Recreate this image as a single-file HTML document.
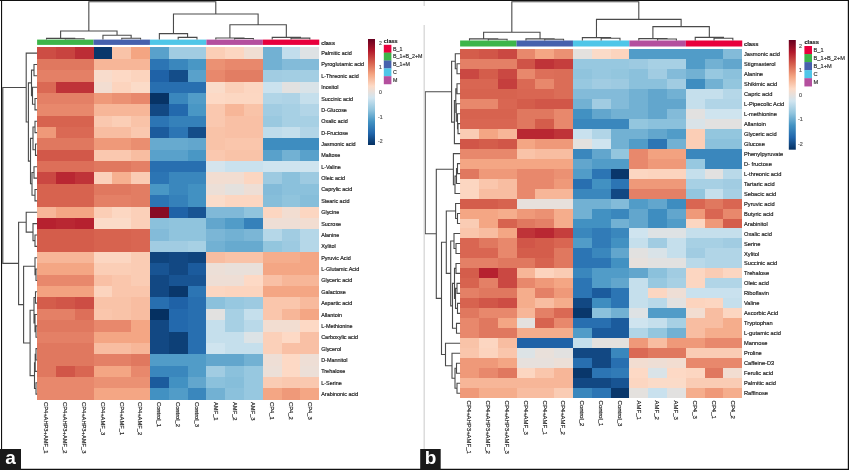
<!DOCTYPE html>
<html><head><meta charset="utf-8"><title>Heatmaps</title>
<style>
html,body{margin:0;padding:0;background:#fff;width:849px;height:470px;overflow:hidden}
svg{display:block}
text{font-family:"Liberation Sans",Arial,sans-serif;fill:#222;stroke:#222;stroke-width:0.18px}
.rl{font-size:5.45px}
.cl{font-size:5.6px}
.tk{font-size:5.1px;fill:#555;stroke:#555}
.lg{font-size:5.3px;fill:#333;stroke:#333}
.ct{font-size:5.5px;font-weight:bold}
.pl{font-size:19px;font-weight:bold;fill:#fff;stroke:none;text-anchor:middle}
</style></head><body>
<svg width="849" height="470" viewBox="0 0 849 470">
<defs><linearGradient id="g" x1="0" y1="0" x2="0" y2="1"><stop offset="0.0000" stop-color="#67001F"/><stop offset="0.1111" stop-color="#B2182B"/><stop offset="0.2222" stop-color="#D6604D"/><stop offset="0.3333" stop-color="#F4A582"/><stop offset="0.4444" stop-color="#FDDBC7"/><stop offset="0.5556" stop-color="#D1E5F0"/><stop offset="0.6667" stop-color="#92C5DE"/><stop offset="0.7778" stop-color="#4393C3"/><stop offset="0.8889" stop-color="#2166AC"/><stop offset="1.0000" stop-color="#053061"/></linearGradient></defs>
<rect width="849" height="470" fill="#fff"/>
<rect x="37" y="47" width="19" height="12" fill="#cd4d44"/>
<rect x="56" y="47" width="19" height="12" fill="#c8433f"/>
<rect x="75" y="47" width="19" height="12" fill="#bc2d35"/>
<rect x="94" y="47" width="18" height="12" fill="#09376b"/>
<rect x="112" y="47" width="19" height="12" fill="#f9c3a8"/>
<rect x="131" y="47" width="19" height="12" fill="#f4a582"/>
<rect x="150" y="47" width="19" height="12" fill="#59a1cb"/>
<rect x="169" y="47" width="19" height="12" fill="#a1cce2"/>
<rect x="188" y="47" width="18" height="12" fill="#a1cce2"/>
<rect x="206" y="47" width="19" height="12" fill="#fbceb6"/>
<rect x="225" y="47" width="19" height="12" fill="#fcd6c1"/>
<rect x="244" y="47" width="19" height="12" fill="#f0ded3"/>
<rect x="263" y="47" width="19" height="12" fill="#72b1d3"/>
<rect x="282" y="47" width="18" height="12" fill="#c2ddec"/>
<rect x="300" y="47" width="19" height="12" fill="#dee2e4"/>
<rect x="37" y="59" width="19" height="11" fill="#e0785f"/>
<rect x="56" y="59" width="19" height="11" fill="#e0785f"/>
<rect x="75" y="59" width="19" height="11" fill="#e0785f"/>
<rect x="94" y="59" width="18" height="11" fill="#f7b698"/>
<rect x="112" y="59" width="19" height="11" fill="#f7b698"/>
<rect x="131" y="59" width="19" height="11" fill="#f7b698"/>
<rect x="150" y="59" width="19" height="11" fill="#2c75b4"/>
<rect x="169" y="59" width="19" height="11" fill="#3a87bd"/>
<rect x="188" y="59" width="18" height="11" fill="#4997c5"/>
<rect x="206" y="59" width="19" height="11" fill="#eb9173"/>
<rect x="225" y="59" width="19" height="11" fill="#e8886c"/>
<rect x="244" y="59" width="19" height="11" fill="#e8886c"/>
<rect x="263" y="59" width="19" height="11" fill="#72b1d3"/>
<rect x="282" y="59" width="18" height="11" fill="#83bbd9"/>
<rect x="300" y="59" width="19" height="11" fill="#83bbd9"/>
<rect x="37" y="70" width="19" height="12" fill="#e48066"/>
<rect x="56" y="70" width="19" height="12" fill="#e48066"/>
<rect x="75" y="70" width="19" height="12" fill="#e48066"/>
<rect x="94" y="70" width="18" height="12" fill="#f8dccc"/>
<rect x="112" y="70" width="19" height="12" fill="#fdd9c5"/>
<rect x="131" y="70" width="19" height="12" fill="#fcd4be"/>
<rect x="150" y="70" width="19" height="12" fill="#1f62a7"/>
<rect x="169" y="70" width="19" height="12" fill="#144d89"/>
<rect x="188" y="70" width="18" height="12" fill="#59a1cb"/>
<rect x="206" y="70" width="19" height="12" fill="#e8886c"/>
<rect x="225" y="70" width="19" height="12" fill="#e27d63"/>
<rect x="244" y="70" width="19" height="12" fill="#e27d63"/>
<rect x="263" y="70" width="19" height="12" fill="#a1cce2"/>
<rect x="282" y="70" width="18" height="12" fill="#a3cee3"/>
<rect x="300" y="70" width="19" height="12" fill="#a3cee3"/>
<rect x="37" y="82" width="19" height="11" fill="#da6954"/>
<rect x="56" y="82" width="19" height="11" fill="#bf3338"/>
<rect x="75" y="82" width="19" height="11" fill="#bf3338"/>
<rect x="94" y="82" width="18" height="11" fill="#f2ddd1"/>
<rect x="112" y="82" width="19" height="11" fill="#fcd4be"/>
<rect x="131" y="82" width="19" height="11" fill="#fbdbc8"/>
<rect x="150" y="82" width="19" height="11" fill="#286fb0"/>
<rect x="169" y="82" width="19" height="11" fill="#286fb0"/>
<rect x="188" y="82" width="18" height="11" fill="#286fb0"/>
<rect x="206" y="82" width="19" height="11" fill="#fadcca"/>
<rect x="225" y="82" width="19" height="11" fill="#fbd0b9"/>
<rect x="244" y="82" width="19" height="11" fill="#fcd6c1"/>
<rect x="263" y="82" width="19" height="11" fill="#cbe2ee"/>
<rect x="282" y="82" width="18" height="11" fill="#e2e1e0"/>
<rect x="300" y="82" width="19" height="11" fill="#d9e3e8"/>
<rect x="37" y="93" width="19" height="11" fill="#e48066"/>
<rect x="56" y="93" width="19" height="11" fill="#e48066"/>
<rect x="75" y="93" width="19" height="11" fill="#e48066"/>
<rect x="94" y="93" width="18" height="11" fill="#ef9979"/>
<rect x="112" y="93" width="19" height="11" fill="#eb9173"/>
<rect x="131" y="93" width="19" height="11" fill="#e8886c"/>
<rect x="150" y="93" width="19" height="11" fill="#073365"/>
<rect x="169" y="93" width="19" height="11" fill="#3a87bd"/>
<rect x="188" y="93" width="18" height="11" fill="#519cc8"/>
<rect x="206" y="93" width="19" height="11" fill="#fdd9c5"/>
<rect x="225" y="93" width="19" height="11" fill="#fcd7c2"/>
<rect x="244" y="93" width="19" height="11" fill="#fcd7c2"/>
<rect x="263" y="93" width="19" height="11" fill="#b1d5e7"/>
<rect x="282" y="93" width="18" height="11" fill="#aed3e6"/>
<rect x="300" y="93" width="19" height="11" fill="#c5dfec"/>
<rect x="37" y="104" width="19" height="12" fill="#e8886c"/>
<rect x="56" y="104" width="19" height="12" fill="#e8886c"/>
<rect x="75" y="104" width="19" height="12" fill="#e8886c"/>
<rect x="94" y="104" width="18" height="12" fill="#f7b698"/>
<rect x="112" y="104" width="19" height="12" fill="#f7b698"/>
<rect x="131" y="104" width="19" height="12" fill="#f7b698"/>
<rect x="150" y="104" width="19" height="12" fill="#124883"/>
<rect x="169" y="104" width="19" height="12" fill="#2369ad"/>
<rect x="188" y="104" width="18" height="12" fill="#4997c5"/>
<rect x="206" y="104" width="19" height="12" fill="#fac8af"/>
<rect x="225" y="104" width="19" height="12" fill="#f7b698"/>
<rect x="244" y="104" width="19" height="12" fill="#f9c3a8"/>
<rect x="263" y="104" width="19" height="12" fill="#a1cce2"/>
<rect x="282" y="104" width="18" height="12" fill="#a7d0e4"/>
<rect x="300" y="104" width="19" height="12" fill="#b2d5e7"/>
<rect x="37" y="116" width="19" height="11" fill="#d7634f"/>
<rect x="56" y="116" width="19" height="11" fill="#d7634f"/>
<rect x="75" y="116" width="19" height="11" fill="#d7634f"/>
<rect x="94" y="116" width="18" height="11" fill="#fac8af"/>
<rect x="112" y="116" width="19" height="11" fill="#fbceb6"/>
<rect x="131" y="116" width="19" height="11" fill="#f9c3a8"/>
<rect x="150" y="116" width="19" height="11" fill="#2c75b4"/>
<rect x="169" y="116" width="19" height="11" fill="#3581ba"/>
<rect x="188" y="116" width="18" height="11" fill="#3581ba"/>
<rect x="206" y="116" width="19" height="11" fill="#fac8af"/>
<rect x="225" y="116" width="19" height="11" fill="#f9c0a5"/>
<rect x="244" y="116" width="19" height="11" fill="#f9c0a5"/>
<rect x="263" y="116" width="19" height="11" fill="#9ac9e0"/>
<rect x="282" y="116" width="18" height="11" fill="#a7d0e4"/>
<rect x="300" y="116" width="19" height="11" fill="#a7d0e4"/>
<rect x="37" y="127" width="19" height="11" fill="#ef9979"/>
<rect x="56" y="127" width="19" height="11" fill="#da6954"/>
<rect x="75" y="127" width="19" height="11" fill="#da6954"/>
<rect x="94" y="127" width="18" height="11" fill="#f8bda1"/>
<rect x="112" y="127" width="19" height="11" fill="#f8bda1"/>
<rect x="131" y="127" width="19" height="11" fill="#fac8af"/>
<rect x="150" y="127" width="19" height="11" fill="#1b5b9d"/>
<rect x="169" y="127" width="19" height="11" fill="#2c75b4"/>
<rect x="188" y="127" width="18" height="11" fill="#144d89"/>
<rect x="206" y="127" width="19" height="11" fill="#f9c3a8"/>
<rect x="225" y="127" width="19" height="11" fill="#f9c0a5"/>
<rect x="244" y="127" width="19" height="11" fill="#f9c0a5"/>
<rect x="263" y="127" width="19" height="11" fill="#bfdceb"/>
<rect x="282" y="127" width="18" height="11" fill="#c5dfec"/>
<rect x="300" y="127" width="19" height="11" fill="#b2d5e7"/>
<rect x="37" y="138" width="19" height="12" fill="#e0785f"/>
<rect x="56" y="138" width="19" height="12" fill="#e0785f"/>
<rect x="75" y="138" width="19" height="12" fill="#e0785f"/>
<rect x="94" y="138" width="18" height="12" fill="#ef9979"/>
<rect x="112" y="138" width="19" height="12" fill="#ef9979"/>
<rect x="131" y="138" width="19" height="12" fill="#ea8e70"/>
<rect x="150" y="138" width="19" height="12" fill="#67aacf"/>
<rect x="169" y="138" width="19" height="12" fill="#67aacf"/>
<rect x="188" y="138" width="18" height="12" fill="#62a6cd"/>
<rect x="206" y="138" width="19" height="12" fill="#f9c3a8"/>
<rect x="225" y="138" width="19" height="12" fill="#fac6ac"/>
<rect x="244" y="138" width="19" height="12" fill="#fac6ac"/>
<rect x="263" y="138" width="19" height="12" fill="#3e8dc0"/>
<rect x="282" y="138" width="18" height="12" fill="#3e8dc0"/>
<rect x="300" y="138" width="19" height="12" fill="#3e8dc0"/>
<rect x="37" y="150" width="19" height="11" fill="#d25849"/>
<rect x="56" y="150" width="19" height="11" fill="#d25849"/>
<rect x="75" y="150" width="19" height="11" fill="#d25849"/>
<rect x="94" y="150" width="18" height="11" fill="#fac8af"/>
<rect x="112" y="150" width="19" height="11" fill="#fac8af"/>
<rect x="131" y="150" width="19" height="11" fill="#f8bda1"/>
<rect x="150" y="150" width="19" height="11" fill="#59a1cb"/>
<rect x="169" y="150" width="19" height="11" fill="#59a1cb"/>
<rect x="188" y="150" width="18" height="11" fill="#4997c5"/>
<rect x="206" y="150" width="19" height="11" fill="#fac8af"/>
<rect x="225" y="150" width="19" height="11" fill="#f9c3a8"/>
<rect x="244" y="150" width="19" height="11" fill="#f9c3a8"/>
<rect x="263" y="150" width="19" height="11" fill="#59a1cb"/>
<rect x="282" y="150" width="18" height="11" fill="#72b1d3"/>
<rect x="300" y="150" width="19" height="11" fill="#59a1cb"/>
<rect x="37" y="161" width="19" height="11" fill="#dd6f59"/>
<rect x="56" y="161" width="19" height="11" fill="#dd6f59"/>
<rect x="75" y="161" width="19" height="11" fill="#dd6f59"/>
<rect x="94" y="161" width="18" height="11" fill="#e0785f"/>
<rect x="112" y="161" width="19" height="11" fill="#e0785f"/>
<rect x="131" y="161" width="19" height="11" fill="#e48066"/>
<rect x="150" y="161" width="19" height="11" fill="#286fb0"/>
<rect x="169" y="161" width="19" height="11" fill="#286fb0"/>
<rect x="188" y="161" width="18" height="11" fill="#286fb0"/>
<rect x="206" y="161" width="19" height="11" fill="#d4e4ed"/>
<rect x="225" y="161" width="19" height="11" fill="#c9e1ee"/>
<rect x="244" y="161" width="19" height="11" fill="#c9e1ee"/>
<rect x="263" y="161" width="19" height="11" fill="#cfe4ef"/>
<rect x="282" y="161" width="18" height="11" fill="#cfe4ef"/>
<rect x="300" y="161" width="19" height="11" fill="#cfe4ef"/>
<rect x="37" y="172" width="19" height="12" fill="#ca4842"/>
<rect x="56" y="172" width="19" height="12" fill="#b92732"/>
<rect x="75" y="172" width="19" height="12" fill="#bf3338"/>
<rect x="94" y="172" width="18" height="12" fill="#fbd1bb"/>
<rect x="112" y="172" width="19" height="12" fill="#f6b090"/>
<rect x="131" y="172" width="19" height="12" fill="#faccb4"/>
<rect x="150" y="172" width="19" height="12" fill="#2c75b4"/>
<rect x="169" y="172" width="19" height="12" fill="#3a87bd"/>
<rect x="188" y="172" width="18" height="12" fill="#3a87bd"/>
<rect x="206" y="172" width="19" height="12" fill="#f2ddd1"/>
<rect x="225" y="172" width="19" height="12" fill="#f2ddd1"/>
<rect x="244" y="172" width="19" height="12" fill="#fcd6c1"/>
<rect x="263" y="172" width="19" height="12" fill="#9dcae1"/>
<rect x="282" y="172" width="18" height="12" fill="#8bc1dc"/>
<rect x="300" y="172" width="19" height="12" fill="#9dcae1"/>
<rect x="37" y="184" width="19" height="11" fill="#d7634f"/>
<rect x="56" y="184" width="19" height="11" fill="#d7634f"/>
<rect x="75" y="184" width="19" height="11" fill="#d7634f"/>
<rect x="94" y="184" width="18" height="11" fill="#e0785f"/>
<rect x="112" y="184" width="19" height="11" fill="#e0785f"/>
<rect x="131" y="184" width="19" height="11" fill="#e27d63"/>
<rect x="150" y="184" width="19" height="11" fill="#4997c5"/>
<rect x="169" y="184" width="19" height="11" fill="#3a87bd"/>
<rect x="188" y="184" width="18" height="11" fill="#4291c2"/>
<rect x="206" y="184" width="19" height="11" fill="#ecdfd7"/>
<rect x="225" y="184" width="19" height="11" fill="#e4e1de"/>
<rect x="244" y="184" width="19" height="11" fill="#eeded5"/>
<rect x="263" y="184" width="19" height="11" fill="#83bbd9"/>
<rect x="282" y="184" width="18" height="11" fill="#8bc1dc"/>
<rect x="300" y="184" width="19" height="11" fill="#8bc1dc"/>
<rect x="37" y="195" width="19" height="12" fill="#d7634f"/>
<rect x="56" y="195" width="19" height="12" fill="#d7634f"/>
<rect x="75" y="195" width="19" height="12" fill="#d7634f"/>
<rect x="94" y="195" width="18" height="12" fill="#e48066"/>
<rect x="112" y="195" width="19" height="12" fill="#e48066"/>
<rect x="131" y="195" width="19" height="12" fill="#e27d63"/>
<rect x="150" y="195" width="19" height="12" fill="#2c75b4"/>
<rect x="169" y="195" width="19" height="12" fill="#3581ba"/>
<rect x="188" y="195" width="18" height="12" fill="#4291c2"/>
<rect x="206" y="195" width="19" height="12" fill="#fadcca"/>
<rect x="225" y="195" width="19" height="12" fill="#fcd6c1"/>
<rect x="244" y="195" width="19" height="12" fill="#fcd6c1"/>
<rect x="263" y="195" width="19" height="12" fill="#86beda"/>
<rect x="282" y="195" width="18" height="12" fill="#90c4dd"/>
<rect x="300" y="195" width="19" height="12" fill="#86beda"/>
<rect x="37" y="207" width="19" height="11" fill="#f7b698"/>
<rect x="56" y="207" width="19" height="11" fill="#f4a684"/>
<rect x="75" y="207" width="19" height="11" fill="#f4a684"/>
<rect x="94" y="207" width="18" height="11" fill="#fbceb6"/>
<rect x="112" y="207" width="19" height="11" fill="#fcd7c2"/>
<rect x="131" y="207" width="19" height="11" fill="#fbd0b9"/>
<rect x="150" y="207" width="19" height="11" fill="#880b24"/>
<rect x="169" y="207" width="19" height="11" fill="#1f62a7"/>
<rect x="188" y="207" width="18" height="11" fill="#185493"/>
<rect x="206" y="207" width="19" height="11" fill="#80b9d8"/>
<rect x="225" y="207" width="19" height="11" fill="#80b9d8"/>
<rect x="244" y="207" width="19" height="11" fill="#90c4dd"/>
<rect x="263" y="207" width="19" height="11" fill="#fcd6c1"/>
<rect x="282" y="207" width="18" height="11" fill="#f2ddd1"/>
<rect x="300" y="207" width="19" height="11" fill="#fcd6c1"/>
<rect x="37" y="218" width="19" height="11" fill="#b6212f"/>
<rect x="56" y="218" width="19" height="11" fill="#b92732"/>
<rect x="75" y="218" width="19" height="11" fill="#b6212f"/>
<rect x="94" y="218" width="18" height="11" fill="#fbdbc8"/>
<rect x="112" y="218" width="19" height="11" fill="#fbdbc8"/>
<rect x="131" y="218" width="19" height="11" fill="#fbd0b9"/>
<rect x="150" y="218" width="19" height="11" fill="#8bc1dc"/>
<rect x="169" y="218" width="19" height="11" fill="#90c4dd"/>
<rect x="188" y="218" width="18" height="11" fill="#90c4dd"/>
<rect x="206" y="218" width="19" height="11" fill="#62a6cd"/>
<rect x="225" y="218" width="19" height="11" fill="#519cc8"/>
<rect x="244" y="218" width="19" height="11" fill="#3581ba"/>
<rect x="263" y="218" width="19" height="11" fill="#eeded5"/>
<rect x="282" y="218" width="18" height="11" fill="#eeded5"/>
<rect x="300" y="218" width="19" height="11" fill="#f2ddd1"/>
<rect x="37" y="229" width="19" height="12" fill="#d45d4b"/>
<rect x="56" y="229" width="19" height="12" fill="#d45d4b"/>
<rect x="75" y="229" width="19" height="12" fill="#d45d4b"/>
<rect x="94" y="229" width="18" height="12" fill="#d7634f"/>
<rect x="112" y="229" width="19" height="12" fill="#d7634f"/>
<rect x="131" y="229" width="19" height="12" fill="#d96652"/>
<rect x="150" y="229" width="19" height="12" fill="#83bbd9"/>
<rect x="169" y="229" width="19" height="12" fill="#90c4dd"/>
<rect x="188" y="229" width="18" height="12" fill="#90c4dd"/>
<rect x="206" y="229" width="19" height="12" fill="#7bb6d6"/>
<rect x="225" y="229" width="19" height="12" fill="#72b1d3"/>
<rect x="244" y="229" width="19" height="12" fill="#7bb6d6"/>
<rect x="263" y="229" width="19" height="12" fill="#b5d7e8"/>
<rect x="282" y="229" width="18" height="12" fill="#a1cce2"/>
<rect x="300" y="229" width="19" height="12" fill="#b5d7e8"/>
<rect x="37" y="241" width="19" height="11" fill="#d45d4b"/>
<rect x="56" y="241" width="19" height="11" fill="#d45d4b"/>
<rect x="75" y="241" width="19" height="11" fill="#d45d4b"/>
<rect x="94" y="241" width="18" height="11" fill="#d7634f"/>
<rect x="112" y="241" width="19" height="11" fill="#d7634f"/>
<rect x="131" y="241" width="19" height="11" fill="#d96652"/>
<rect x="150" y="241" width="19" height="11" fill="#a1cce2"/>
<rect x="169" y="241" width="19" height="11" fill="#a1cce2"/>
<rect x="188" y="241" width="18" height="11" fill="#a7d0e4"/>
<rect x="206" y="241" width="19" height="11" fill="#72b1d3"/>
<rect x="225" y="241" width="19" height="11" fill="#67aacf"/>
<rect x="244" y="241" width="19" height="11" fill="#67aacf"/>
<rect x="263" y="241" width="19" height="11" fill="#93c6de"/>
<rect x="282" y="241" width="18" height="11" fill="#9dcae1"/>
<rect x="300" y="241" width="19" height="11" fill="#b5d7e8"/>
<rect x="37" y="252" width="19" height="11" fill="#f7b698"/>
<rect x="56" y="252" width="19" height="11" fill="#f7b698"/>
<rect x="75" y="252" width="19" height="11" fill="#f7b698"/>
<rect x="94" y="252" width="18" height="11" fill="#fcd6c1"/>
<rect x="112" y="252" width="19" height="11" fill="#fcd6c1"/>
<rect x="131" y="252" width="19" height="11" fill="#faccb4"/>
<rect x="150" y="252" width="19" height="11" fill="#0f447d"/>
<rect x="169" y="252" width="19" height="11" fill="#124883"/>
<rect x="188" y="252" width="18" height="11" fill="#0f447d"/>
<rect x="206" y="252" width="19" height="11" fill="#f8bda1"/>
<rect x="225" y="252" width="19" height="11" fill="#f9c3a8"/>
<rect x="244" y="252" width="19" height="11" fill="#f9c3a8"/>
<rect x="263" y="252" width="19" height="11" fill="#f5ad8c"/>
<rect x="282" y="252" width="18" height="11" fill="#f5ad8c"/>
<rect x="300" y="252" width="19" height="11" fill="#f4a684"/>
<rect x="37" y="263" width="19" height="12" fill="#f4a684"/>
<rect x="56" y="263" width="19" height="12" fill="#f4a684"/>
<rect x="75" y="263" width="19" height="12" fill="#f4a684"/>
<rect x="94" y="263" width="18" height="12" fill="#fbceb6"/>
<rect x="112" y="263" width="19" height="12" fill="#fbceb6"/>
<rect x="131" y="263" width="19" height="12" fill="#faccb4"/>
<rect x="150" y="263" width="19" height="12" fill="#185493"/>
<rect x="169" y="263" width="19" height="12" fill="#124883"/>
<rect x="188" y="263" width="18" height="12" fill="#1b5b9d"/>
<rect x="206" y="263" width="19" height="12" fill="#ecdfd7"/>
<rect x="225" y="263" width="19" height="12" fill="#e9e0da"/>
<rect x="244" y="263" width="19" height="12" fill="#e9e0da"/>
<rect x="263" y="263" width="19" height="12" fill="#f4a684"/>
<rect x="282" y="263" width="18" height="12" fill="#f4a684"/>
<rect x="300" y="263" width="19" height="12" fill="#f4a684"/>
<rect x="37" y="275" width="19" height="11" fill="#e8886c"/>
<rect x="56" y="275" width="19" height="11" fill="#e8886c"/>
<rect x="75" y="275" width="19" height="11" fill="#e8886c"/>
<rect x="94" y="275" width="18" height="11" fill="#f9c0a5"/>
<rect x="112" y="275" width="19" height="11" fill="#fac6ac"/>
<rect x="131" y="275" width="19" height="11" fill="#faccb4"/>
<rect x="150" y="275" width="19" height="11" fill="#124883"/>
<rect x="169" y="275" width="19" height="11" fill="#185493"/>
<rect x="188" y="275" width="18" height="11" fill="#185493"/>
<rect x="206" y="275" width="19" height="11" fill="#eeded5"/>
<rect x="225" y="275" width="19" height="11" fill="#eeded5"/>
<rect x="244" y="275" width="19" height="11" fill="#fdd9c5"/>
<rect x="263" y="275" width="19" height="11" fill="#f9c0a5"/>
<rect x="282" y="275" width="18" height="11" fill="#f7b698"/>
<rect x="300" y="275" width="19" height="11" fill="#f7b698"/>
<rect x="37" y="286" width="19" height="11" fill="#f3a280"/>
<rect x="56" y="286" width="19" height="11" fill="#f3a280"/>
<rect x="75" y="286" width="19" height="11" fill="#f3a280"/>
<rect x="94" y="286" width="18" height="11" fill="#fcd4be"/>
<rect x="112" y="286" width="19" height="11" fill="#fac6ac"/>
<rect x="131" y="286" width="19" height="11" fill="#fac6ac"/>
<rect x="150" y="286" width="19" height="11" fill="#124883"/>
<rect x="169" y="286" width="19" height="11" fill="#09376b"/>
<rect x="188" y="286" width="18" height="11" fill="#2c75b4"/>
<rect x="206" y="286" width="19" height="11" fill="#fcd6c1"/>
<rect x="225" y="286" width="19" height="11" fill="#fcd4be"/>
<rect x="244" y="286" width="19" height="11" fill="#fcd4be"/>
<rect x="263" y="286" width="19" height="11" fill="#f4a684"/>
<rect x="282" y="286" width="18" height="11" fill="#f4a684"/>
<rect x="300" y="286" width="19" height="11" fill="#f4a684"/>
<rect x="37" y="297" width="19" height="12" fill="#d45d4b"/>
<rect x="56" y="297" width="19" height="12" fill="#d15648"/>
<rect x="75" y="297" width="19" height="12" fill="#cd4d44"/>
<rect x="94" y="297" width="18" height="12" fill="#f9c3a8"/>
<rect x="112" y="297" width="19" height="12" fill="#f9c3a8"/>
<rect x="131" y="297" width="19" height="12" fill="#f8bda1"/>
<rect x="150" y="297" width="19" height="12" fill="#286fb0"/>
<rect x="169" y="297" width="19" height="12" fill="#1f62a7"/>
<rect x="188" y="297" width="18" height="12" fill="#286fb0"/>
<rect x="206" y="297" width="19" height="12" fill="#8bc1dc"/>
<rect x="225" y="297" width="19" height="12" fill="#97c8e0"/>
<rect x="244" y="297" width="19" height="12" fill="#9dcae1"/>
<rect x="263" y="297" width="19" height="12" fill="#fac6ac"/>
<rect x="282" y="297" width="18" height="12" fill="#fac6ac"/>
<rect x="300" y="297" width="19" height="12" fill="#f8ba9d"/>
<rect x="37" y="309" width="19" height="11" fill="#e48066"/>
<rect x="56" y="309" width="19" height="11" fill="#e48066"/>
<rect x="75" y="309" width="19" height="11" fill="#dd6f59"/>
<rect x="94" y="309" width="18" height="11" fill="#fac6ac"/>
<rect x="112" y="309" width="19" height="11" fill="#f9c3a8"/>
<rect x="131" y="309" width="19" height="11" fill="#f8bda1"/>
<rect x="150" y="309" width="19" height="11" fill="#053061"/>
<rect x="169" y="309" width="19" height="11" fill="#2369ad"/>
<rect x="188" y="309" width="18" height="11" fill="#286fb0"/>
<rect x="206" y="309" width="19" height="11" fill="#e2e1e0"/>
<rect x="225" y="309" width="19" height="11" fill="#a7d0e4"/>
<rect x="244" y="309" width="19" height="11" fill="#c5dfec"/>
<rect x="263" y="309" width="19" height="11" fill="#fac6ac"/>
<rect x="282" y="309" width="18" height="11" fill="#f7b698"/>
<rect x="300" y="309" width="19" height="11" fill="#f4a684"/>
<rect x="37" y="320" width="19" height="12" fill="#e0785f"/>
<rect x="56" y="320" width="19" height="12" fill="#e0785f"/>
<rect x="75" y="320" width="19" height="12" fill="#e0785f"/>
<rect x="94" y="320" width="18" height="12" fill="#e8886c"/>
<rect x="112" y="320" width="19" height="12" fill="#e8886c"/>
<rect x="131" y="320" width="19" height="12" fill="#f4a684"/>
<rect x="150" y="320" width="19" height="12" fill="#124883"/>
<rect x="169" y="320" width="19" height="12" fill="#2369ad"/>
<rect x="188" y="320" width="18" height="12" fill="#286fb0"/>
<rect x="206" y="320" width="19" height="12" fill="#c5dfec"/>
<rect x="225" y="320" width="19" height="12" fill="#a7d0e4"/>
<rect x="244" y="320" width="19" height="12" fill="#b9d9e9"/>
<rect x="263" y="320" width="19" height="12" fill="#f2ddd1"/>
<rect x="282" y="320" width="18" height="12" fill="#f2ddd1"/>
<rect x="300" y="320" width="19" height="12" fill="#fdd9c5"/>
<rect x="37" y="332" width="19" height="11" fill="#e48066"/>
<rect x="56" y="332" width="19" height="11" fill="#e48066"/>
<rect x="75" y="332" width="19" height="11" fill="#e48066"/>
<rect x="94" y="332" width="18" height="11" fill="#f4a684"/>
<rect x="112" y="332" width="19" height="11" fill="#f4a684"/>
<rect x="131" y="332" width="19" height="11" fill="#f4a684"/>
<rect x="150" y="332" width="19" height="11" fill="#124883"/>
<rect x="169" y="332" width="19" height="11" fill="#0d4077"/>
<rect x="188" y="332" width="18" height="11" fill="#286fb0"/>
<rect x="206" y="332" width="19" height="11" fill="#c5dfec"/>
<rect x="225" y="332" width="19" height="11" fill="#c5dfec"/>
<rect x="244" y="332" width="19" height="11" fill="#dce3e6"/>
<rect x="263" y="332" width="19" height="11" fill="#fbd0b9"/>
<rect x="282" y="332" width="18" height="11" fill="#fdd9c5"/>
<rect x="300" y="332" width="19" height="11" fill="#f9c0a5"/>
<rect x="37" y="343" width="19" height="11" fill="#e0785f"/>
<rect x="56" y="343" width="19" height="11" fill="#e0785f"/>
<rect x="75" y="343" width="19" height="11" fill="#e0785f"/>
<rect x="94" y="343" width="18" height="11" fill="#f8bda1"/>
<rect x="112" y="343" width="19" height="11" fill="#f8bda1"/>
<rect x="131" y="343" width="19" height="11" fill="#f7b698"/>
<rect x="150" y="343" width="19" height="11" fill="#124883"/>
<rect x="169" y="343" width="19" height="11" fill="#0d4077"/>
<rect x="188" y="343" width="18" height="11" fill="#286fb0"/>
<rect x="206" y="343" width="19" height="11" fill="#cfe4ef"/>
<rect x="225" y="343" width="19" height="11" fill="#c5dfec"/>
<rect x="244" y="343" width="19" height="11" fill="#c5dfec"/>
<rect x="263" y="343" width="19" height="11" fill="#fbd0b9"/>
<rect x="282" y="343" width="18" height="11" fill="#f9c0a5"/>
<rect x="300" y="343" width="19" height="11" fill="#f9c0a5"/>
<rect x="37" y="354" width="19" height="12" fill="#e0785f"/>
<rect x="56" y="354" width="19" height="12" fill="#e0785f"/>
<rect x="75" y="354" width="19" height="12" fill="#e0785f"/>
<rect x="94" y="354" width="18" height="12" fill="#e48066"/>
<rect x="112" y="354" width="19" height="12" fill="#e48066"/>
<rect x="131" y="354" width="19" height="12" fill="#e0785f"/>
<rect x="150" y="354" width="19" height="12" fill="#519cc8"/>
<rect x="169" y="354" width="19" height="12" fill="#519cc8"/>
<rect x="188" y="354" width="18" height="12" fill="#519cc8"/>
<rect x="206" y="354" width="19" height="12" fill="#62a6cd"/>
<rect x="225" y="354" width="19" height="12" fill="#62a6cd"/>
<rect x="244" y="354" width="19" height="12" fill="#72b1d3"/>
<rect x="263" y="354" width="19" height="12" fill="#eeded5"/>
<rect x="282" y="354" width="18" height="12" fill="#fdd9c5"/>
<rect x="300" y="354" width="19" height="12" fill="#eeded5"/>
<rect x="37" y="366" width="19" height="11" fill="#e0785f"/>
<rect x="56" y="366" width="19" height="11" fill="#d15648"/>
<rect x="75" y="366" width="19" height="11" fill="#d96652"/>
<rect x="94" y="366" width="18" height="11" fill="#f4a684"/>
<rect x="112" y="366" width="19" height="11" fill="#f4a684"/>
<rect x="131" y="366" width="19" height="11" fill="#e8886c"/>
<rect x="150" y="366" width="19" height="11" fill="#3a87bd"/>
<rect x="169" y="366" width="19" height="11" fill="#3a87bd"/>
<rect x="188" y="366" width="18" height="11" fill="#519cc8"/>
<rect x="206" y="366" width="19" height="11" fill="#a1cce2"/>
<rect x="225" y="366" width="19" height="11" fill="#8bc1dc"/>
<rect x="244" y="366" width="19" height="11" fill="#97c8e0"/>
<rect x="263" y="366" width="19" height="11" fill="#ecdfd7"/>
<rect x="282" y="366" width="18" height="11" fill="#fdd9c5"/>
<rect x="300" y="366" width="19" height="11" fill="#ecdfd7"/>
<rect x="37" y="377" width="19" height="11" fill="#e8886c"/>
<rect x="56" y="377" width="19" height="11" fill="#e8886c"/>
<rect x="75" y="377" width="19" height="11" fill="#e8886c"/>
<rect x="94" y="377" width="18" height="11" fill="#eb9173"/>
<rect x="112" y="377" width="19" height="11" fill="#eb9173"/>
<rect x="131" y="377" width="19" height="11" fill="#eb9173"/>
<rect x="150" y="377" width="19" height="11" fill="#1b5b9d"/>
<rect x="169" y="377" width="19" height="11" fill="#4291c2"/>
<rect x="188" y="377" width="18" height="11" fill="#62a6cd"/>
<rect x="206" y="377" width="19" height="11" fill="#8bc1dc"/>
<rect x="225" y="377" width="19" height="11" fill="#86beda"/>
<rect x="244" y="377" width="19" height="11" fill="#97c8e0"/>
<rect x="263" y="377" width="19" height="11" fill="#faccb4"/>
<rect x="282" y="377" width="18" height="11" fill="#fac8af"/>
<rect x="300" y="377" width="19" height="11" fill="#fac8af"/>
<rect x="37" y="388" width="19" height="12" fill="#e8886c"/>
<rect x="56" y="388" width="19" height="12" fill="#e8886c"/>
<rect x="75" y="388" width="19" height="12" fill="#e8886c"/>
<rect x="94" y="388" width="18" height="12" fill="#f4a684"/>
<rect x="112" y="388" width="19" height="12" fill="#f4a684"/>
<rect x="131" y="388" width="19" height="12" fill="#f4a684"/>
<rect x="150" y="388" width="19" height="12" fill="#4291c2"/>
<rect x="169" y="388" width="19" height="12" fill="#519cc8"/>
<rect x="188" y="388" width="18" height="12" fill="#3a87bd"/>
<rect x="206" y="388" width="19" height="12" fill="#72b1d3"/>
<rect x="225" y="388" width="19" height="12" fill="#8bc1dc"/>
<rect x="244" y="388" width="19" height="12" fill="#97c8e0"/>
<rect x="263" y="388" width="19" height="12" fill="#f4a684"/>
<rect x="282" y="388" width="18" height="12" fill="#ef9979"/>
<rect x="300" y="388" width="19" height="12" fill="#f4a684"/>
<rect x="37.10" y="39.60" width="56.43" height="5.30" fill="#3db54a"/>
<rect x="93.53" y="39.60" width="56.43" height="5.30" fill="#4661ad"/>
<rect x="149.96" y="39.60" width="56.43" height="5.30" fill="#4fc6e8"/>
<rect x="206.39" y="39.60" width="56.43" height="5.30" fill="#b44f9e"/>
<rect x="262.82" y="39.60" width="56.43" height="5.30" fill="#e8003d"/>
<rect x="460" y="49" width="19" height="10" fill="#d45d4b"/>
<rect x="479" y="49" width="19" height="10" fill="#d15648"/>
<rect x="498" y="49" width="19" height="10" fill="#ca4842"/>
<rect x="517" y="49" width="18" height="10" fill="#e8886c"/>
<rect x="535" y="49" width="19" height="10" fill="#f4a684"/>
<rect x="554" y="49" width="19" height="10" fill="#eb9173"/>
<rect x="573" y="49" width="19" height="10" fill="#e4e1de"/>
<rect x="592" y="49" width="19" height="10" fill="#fbdbc8"/>
<rect x="611" y="49" width="18" height="10" fill="#fcd4be"/>
<rect x="629" y="49" width="19" height="10" fill="#519cc8"/>
<rect x="648" y="49" width="19" height="10" fill="#519cc8"/>
<rect x="667" y="49" width="19" height="10" fill="#519cc8"/>
<rect x="686" y="49" width="19" height="10" fill="#519cc8"/>
<rect x="705" y="49" width="18" height="10" fill="#519cc8"/>
<rect x="723" y="49" width="19" height="10" fill="#83bbd9"/>
<rect x="460" y="59" width="19" height="10" fill="#e48066"/>
<rect x="479" y="59" width="19" height="10" fill="#e48066"/>
<rect x="498" y="59" width="19" height="10" fill="#e48066"/>
<rect x="517" y="59" width="18" height="10" fill="#cf5347"/>
<rect x="535" y="59" width="19" height="10" fill="#bf3338"/>
<rect x="554" y="59" width="19" height="10" fill="#c53e3d"/>
<rect x="573" y="59" width="19" height="10" fill="#97c8e0"/>
<rect x="592" y="59" width="19" height="10" fill="#97c8e0"/>
<rect x="611" y="59" width="18" height="10" fill="#97c8e0"/>
<rect x="629" y="59" width="19" height="10" fill="#9dcae1"/>
<rect x="648" y="59" width="19" height="10" fill="#a7d0e4"/>
<rect x="667" y="59" width="19" height="10" fill="#a7d0e4"/>
<rect x="686" y="59" width="19" height="10" fill="#519cc8"/>
<rect x="705" y="59" width="18" height="10" fill="#72b1d3"/>
<rect x="723" y="59" width="19" height="10" fill="#62a6cd"/>
<rect x="460" y="69" width="19" height="10" fill="#ca4842"/>
<rect x="479" y="69" width="19" height="10" fill="#d45d4b"/>
<rect x="498" y="69" width="19" height="10" fill="#ca4842"/>
<rect x="517" y="69" width="18" height="10" fill="#e8886c"/>
<rect x="535" y="69" width="19" height="10" fill="#dd6f59"/>
<rect x="554" y="69" width="19" height="10" fill="#db6d57"/>
<rect x="573" y="69" width="19" height="10" fill="#90c4dd"/>
<rect x="592" y="69" width="19" height="10" fill="#97c8e0"/>
<rect x="611" y="69" width="18" height="10" fill="#93c6de"/>
<rect x="629" y="69" width="19" height="10" fill="#8bc1dc"/>
<rect x="648" y="69" width="19" height="10" fill="#a1cce2"/>
<rect x="667" y="69" width="19" height="10" fill="#83bbd9"/>
<rect x="686" y="69" width="19" height="10" fill="#72b1d3"/>
<rect x="705" y="69" width="18" height="10" fill="#97c8e0"/>
<rect x="723" y="69" width="19" height="10" fill="#8bc1dc"/>
<rect x="460" y="79" width="19" height="10" fill="#d96652"/>
<rect x="479" y="79" width="19" height="10" fill="#d96652"/>
<rect x="498" y="79" width="19" height="10" fill="#c53e3d"/>
<rect x="517" y="79" width="18" height="10" fill="#da6954"/>
<rect x="535" y="79" width="19" height="10" fill="#e8886c"/>
<rect x="554" y="79" width="19" height="10" fill="#db6d57"/>
<rect x="573" y="79" width="19" height="10" fill="#97c8e0"/>
<rect x="592" y="79" width="19" height="10" fill="#a1cce2"/>
<rect x="611" y="79" width="18" height="10" fill="#9dcae1"/>
<rect x="629" y="79" width="19" height="10" fill="#8bc1dc"/>
<rect x="648" y="79" width="19" height="10" fill="#8bc1dc"/>
<rect x="667" y="79" width="19" height="10" fill="#a1cce2"/>
<rect x="686" y="79" width="19" height="10" fill="#3e8dc0"/>
<rect x="705" y="79" width="18" height="10" fill="#72b1d3"/>
<rect x="723" y="79" width="19" height="10" fill="#93c6de"/>
<rect x="460" y="89" width="19" height="10" fill="#d7634f"/>
<rect x="479" y="89" width="19" height="10" fill="#d7634f"/>
<rect x="498" y="89" width="19" height="10" fill="#d7634f"/>
<rect x="517" y="89" width="18" height="10" fill="#d96652"/>
<rect x="535" y="89" width="19" height="10" fill="#d96652"/>
<rect x="554" y="89" width="19" height="10" fill="#db6d57"/>
<rect x="573" y="89" width="19" height="10" fill="#83bbd9"/>
<rect x="592" y="89" width="19" height="10" fill="#83bbd9"/>
<rect x="611" y="89" width="18" height="10" fill="#83bbd9"/>
<rect x="629" y="89" width="19" height="10" fill="#72b1d3"/>
<rect x="648" y="89" width="19" height="10" fill="#62a6cd"/>
<rect x="667" y="89" width="19" height="10" fill="#72b1d3"/>
<rect x="686" y="89" width="19" height="10" fill="#c5dfec"/>
<rect x="705" y="89" width="18" height="10" fill="#c5dfec"/>
<rect x="723" y="89" width="19" height="10" fill="#b5d7e8"/>
<rect x="460" y="99" width="19" height="10" fill="#e8886c"/>
<rect x="479" y="99" width="19" height="10" fill="#e8886c"/>
<rect x="498" y="99" width="19" height="10" fill="#d96652"/>
<rect x="517" y="99" width="18" height="10" fill="#d45d4b"/>
<rect x="535" y="99" width="19" height="10" fill="#d15648"/>
<rect x="554" y="99" width="19" height="10" fill="#d15648"/>
<rect x="573" y="99" width="19" height="10" fill="#72b1d3"/>
<rect x="592" y="99" width="19" height="10" fill="#a1cce2"/>
<rect x="611" y="99" width="18" height="10" fill="#83bbd9"/>
<rect x="629" y="99" width="19" height="10" fill="#72b1d3"/>
<rect x="648" y="99" width="19" height="10" fill="#62a6cd"/>
<rect x="667" y="99" width="19" height="10" fill="#62a6cd"/>
<rect x="686" y="99" width="19" height="10" fill="#c5dfec"/>
<rect x="705" y="99" width="18" height="10" fill="#b1d5e7"/>
<rect x="723" y="99" width="19" height="10" fill="#b1d5e7"/>
<rect x="460" y="109" width="19" height="10" fill="#d7634f"/>
<rect x="479" y="109" width="19" height="10" fill="#d7634f"/>
<rect x="498" y="109" width="19" height="10" fill="#d7634f"/>
<rect x="517" y="109" width="18" height="10" fill="#e0785f"/>
<rect x="535" y="109" width="19" height="10" fill="#e0785f"/>
<rect x="554" y="109" width="19" height="10" fill="#e8886c"/>
<rect x="573" y="109" width="19" height="10" fill="#4291c2"/>
<rect x="592" y="109" width="19" height="10" fill="#62a6cd"/>
<rect x="611" y="109" width="18" height="10" fill="#72b1d3"/>
<rect x="629" y="109" width="19" height="10" fill="#72b1d3"/>
<rect x="648" y="109" width="19" height="10" fill="#62a6cd"/>
<rect x="667" y="109" width="19" height="10" fill="#83bbd9"/>
<rect x="686" y="109" width="19" height="10" fill="#e2e1e0"/>
<rect x="705" y="109" width="18" height="10" fill="#cfe4ef"/>
<rect x="723" y="109" width="19" height="10" fill="#cfe4ef"/>
<rect x="460" y="119" width="19" height="10" fill="#d96652"/>
<rect x="479" y="119" width="19" height="10" fill="#d96652"/>
<rect x="498" y="119" width="19" height="10" fill="#d96652"/>
<rect x="517" y="119" width="18" height="10" fill="#e0785f"/>
<rect x="535" y="119" width="19" height="10" fill="#d45d4b"/>
<rect x="554" y="119" width="19" height="10" fill="#e8886c"/>
<rect x="573" y="119" width="19" height="10" fill="#3a87bd"/>
<rect x="592" y="119" width="19" height="10" fill="#3a87bd"/>
<rect x="611" y="119" width="18" height="10" fill="#3a87bd"/>
<rect x="629" y="119" width="19" height="10" fill="#93c6de"/>
<rect x="648" y="119" width="19" height="10" fill="#8bc1dc"/>
<rect x="667" y="119" width="19" height="10" fill="#8bc1dc"/>
<rect x="686" y="119" width="19" height="10" fill="#d9e3e8"/>
<rect x="705" y="119" width="18" height="10" fill="#e2e1e0"/>
<rect x="723" y="119" width="19" height="10" fill="#e2e1e0"/>
<rect x="460" y="129" width="19" height="10" fill="#faccb4"/>
<rect x="479" y="129" width="19" height="10" fill="#f4a684"/>
<rect x="498" y="129" width="19" height="10" fill="#f7b698"/>
<rect x="517" y="129" width="18" height="10" fill="#b92732"/>
<rect x="535" y="129" width="19" height="10" fill="#b92732"/>
<rect x="554" y="129" width="19" height="10" fill="#bf3338"/>
<rect x="573" y="129" width="19" height="10" fill="#c9e1ee"/>
<rect x="592" y="129" width="19" height="10" fill="#b1d5e7"/>
<rect x="611" y="129" width="18" height="10" fill="#72b1d3"/>
<rect x="629" y="129" width="19" height="10" fill="#72b1d3"/>
<rect x="648" y="129" width="19" height="10" fill="#62a6cd"/>
<rect x="667" y="129" width="19" height="10" fill="#519cc8"/>
<rect x="686" y="129" width="19" height="10" fill="#fbceb6"/>
<rect x="705" y="129" width="18" height="10" fill="#93c6de"/>
<rect x="723" y="129" width="19" height="10" fill="#93c6de"/>
<rect x="460" y="139" width="19" height="10" fill="#d15648"/>
<rect x="479" y="139" width="19" height="10" fill="#d45d4b"/>
<rect x="498" y="139" width="19" height="10" fill="#d15648"/>
<rect x="517" y="139" width="18" height="10" fill="#f4a684"/>
<rect x="535" y="139" width="19" height="10" fill="#ef9979"/>
<rect x="554" y="139" width="19" height="10" fill="#ef9979"/>
<rect x="573" y="139" width="19" height="10" fill="#e4e1de"/>
<rect x="592" y="139" width="19" height="10" fill="#cfe4ef"/>
<rect x="611" y="139" width="18" height="10" fill="#72b1d3"/>
<rect x="629" y="139" width="19" height="10" fill="#519cc8"/>
<rect x="648" y="139" width="19" height="10" fill="#2c75b4"/>
<rect x="667" y="139" width="19" height="10" fill="#72b1d3"/>
<rect x="686" y="139" width="19" height="10" fill="#fbceb6"/>
<rect x="705" y="139" width="18" height="10" fill="#8bc1dc"/>
<rect x="723" y="139" width="19" height="10" fill="#8bc1dc"/>
<rect x="460" y="149" width="19" height="10" fill="#e8886c"/>
<rect x="479" y="149" width="19" height="10" fill="#e8886c"/>
<rect x="498" y="149" width="19" height="10" fill="#e8886c"/>
<rect x="517" y="149" width="18" height="10" fill="#f9c3a8"/>
<rect x="535" y="149" width="19" height="10" fill="#f8bda1"/>
<rect x="554" y="149" width="19" height="10" fill="#f8bda1"/>
<rect x="573" y="149" width="19" height="10" fill="#3a87bd"/>
<rect x="592" y="149" width="19" height="10" fill="#62a6cd"/>
<rect x="611" y="149" width="18" height="10" fill="#93c6de"/>
<rect x="629" y="149" width="19" height="10" fill="#e8886c"/>
<rect x="648" y="149" width="19" height="10" fill="#f3a280"/>
<rect x="667" y="149" width="19" height="10" fill="#f3a280"/>
<rect x="686" y="149" width="19" height="10" fill="#3a87bd"/>
<rect x="705" y="149" width="18" height="10" fill="#3a87bd"/>
<rect x="723" y="149" width="19" height="10" fill="#3a87bd"/>
<rect x="460" y="159" width="19" height="10" fill="#f4a684"/>
<rect x="479" y="159" width="19" height="10" fill="#f4a684"/>
<rect x="498" y="159" width="19" height="10" fill="#f4a684"/>
<rect x="517" y="159" width="18" height="10" fill="#f4a684"/>
<rect x="535" y="159" width="19" height="10" fill="#f4a684"/>
<rect x="554" y="159" width="19" height="10" fill="#f4a684"/>
<rect x="573" y="159" width="19" height="10" fill="#62a6cd"/>
<rect x="592" y="159" width="19" height="10" fill="#519cc8"/>
<rect x="611" y="159" width="18" height="10" fill="#519cc8"/>
<rect x="629" y="159" width="19" height="10" fill="#e8886c"/>
<rect x="648" y="159" width="19" height="10" fill="#ef9979"/>
<rect x="667" y="159" width="19" height="10" fill="#ef9979"/>
<rect x="686" y="159" width="19" height="10" fill="#97c8e0"/>
<rect x="705" y="159" width="18" height="10" fill="#3a87bd"/>
<rect x="723" y="159" width="19" height="10" fill="#3a87bd"/>
<rect x="460" y="169" width="19" height="10" fill="#e0785f"/>
<rect x="479" y="169" width="19" height="10" fill="#ef9979"/>
<rect x="498" y="169" width="19" height="10" fill="#ef9979"/>
<rect x="517" y="169" width="18" height="10" fill="#e8886c"/>
<rect x="535" y="169" width="19" height="10" fill="#e8886c"/>
<rect x="554" y="169" width="19" height="10" fill="#eb9173"/>
<rect x="573" y="169" width="19" height="10" fill="#519cc8"/>
<rect x="592" y="169" width="19" height="10" fill="#2c75b4"/>
<rect x="611" y="169" width="18" height="10" fill="#09376b"/>
<rect x="629" y="169" width="19" height="10" fill="#fcd6c1"/>
<rect x="648" y="169" width="19" height="10" fill="#fcd4be"/>
<rect x="667" y="169" width="19" height="10" fill="#fcd4be"/>
<rect x="686" y="169" width="19" height="10" fill="#c5dfec"/>
<rect x="705" y="169" width="18" height="10" fill="#e2e1e0"/>
<rect x="723" y="169" width="19" height="10" fill="#b9d9e9"/>
<rect x="460" y="179" width="19" height="10" fill="#fcd6c1"/>
<rect x="479" y="179" width="19" height="10" fill="#fac6ac"/>
<rect x="498" y="179" width="19" height="10" fill="#f8bda1"/>
<rect x="517" y="179" width="18" height="10" fill="#e8886c"/>
<rect x="535" y="179" width="19" height="10" fill="#e8886c"/>
<rect x="554" y="179" width="19" height="10" fill="#ef9979"/>
<rect x="573" y="179" width="19" height="10" fill="#286fb0"/>
<rect x="592" y="179" width="19" height="10" fill="#4291c2"/>
<rect x="611" y="179" width="18" height="10" fill="#2c75b4"/>
<rect x="629" y="179" width="19" height="10" fill="#ef9979"/>
<rect x="648" y="179" width="19" height="10" fill="#ef9979"/>
<rect x="667" y="179" width="19" height="10" fill="#ef9979"/>
<rect x="686" y="179" width="19" height="10" fill="#a7d0e4"/>
<rect x="705" y="179" width="18" height="10" fill="#a7d0e4"/>
<rect x="723" y="179" width="19" height="10" fill="#a1cce2"/>
<rect x="460" y="189" width="19" height="10" fill="#fcd6c1"/>
<rect x="479" y="189" width="19" height="10" fill="#f8bda1"/>
<rect x="498" y="189" width="19" height="10" fill="#f8bda1"/>
<rect x="517" y="189" width="18" height="10" fill="#e8886c"/>
<rect x="535" y="189" width="19" height="10" fill="#f7b698"/>
<rect x="554" y="189" width="19" height="10" fill="#f7b698"/>
<rect x="573" y="189" width="19" height="10" fill="#3a87bd"/>
<rect x="592" y="189" width="19" height="10" fill="#3a87bd"/>
<rect x="611" y="189" width="18" height="10" fill="#124883"/>
<rect x="629" y="189" width="19" height="10" fill="#e48066"/>
<rect x="648" y="189" width="19" height="10" fill="#e48066"/>
<rect x="667" y="189" width="19" height="10" fill="#e48066"/>
<rect x="686" y="189" width="19" height="10" fill="#93c6de"/>
<rect x="705" y="189" width="18" height="10" fill="#c5dfec"/>
<rect x="723" y="189" width="19" height="10" fill="#a7d0e4"/>
<rect x="460" y="199" width="19" height="10" fill="#d45d4b"/>
<rect x="479" y="199" width="19" height="10" fill="#d45d4b"/>
<rect x="498" y="199" width="19" height="10" fill="#d7634f"/>
<rect x="517" y="199" width="18" height="10" fill="#e7e0dc"/>
<rect x="535" y="199" width="19" height="10" fill="#e7e0dc"/>
<rect x="554" y="199" width="19" height="10" fill="#e7e0dc"/>
<rect x="573" y="199" width="19" height="10" fill="#72b1d3"/>
<rect x="592" y="199" width="19" height="10" fill="#72b1d3"/>
<rect x="611" y="199" width="18" height="10" fill="#83bbd9"/>
<rect x="629" y="199" width="19" height="10" fill="#519cc8"/>
<rect x="648" y="199" width="19" height="10" fill="#62a6cd"/>
<rect x="667" y="199" width="19" height="10" fill="#3e8dc0"/>
<rect x="686" y="199" width="19" height="10" fill="#d96652"/>
<rect x="705" y="199" width="18" height="10" fill="#e0785f"/>
<rect x="723" y="199" width="19" height="10" fill="#d96652"/>
<rect x="460" y="209" width="19" height="10" fill="#f4a684"/>
<rect x="479" y="209" width="19" height="10" fill="#f4a684"/>
<rect x="498" y="209" width="19" height="10" fill="#f5ad8c"/>
<rect x="517" y="209" width="18" height="10" fill="#ef9979"/>
<rect x="535" y="209" width="19" height="10" fill="#eb9173"/>
<rect x="554" y="209" width="19" height="10" fill="#f5ad8c"/>
<rect x="573" y="209" width="19" height="10" fill="#72b1d3"/>
<rect x="592" y="209" width="19" height="10" fill="#4291c2"/>
<rect x="611" y="209" width="18" height="10" fill="#3a87bd"/>
<rect x="629" y="209" width="19" height="10" fill="#62a6cd"/>
<rect x="648" y="209" width="19" height="10" fill="#3e8dc0"/>
<rect x="667" y="209" width="19" height="10" fill="#62a6cd"/>
<rect x="686" y="209" width="19" height="10" fill="#ef9979"/>
<rect x="705" y="209" width="18" height="10" fill="#d96652"/>
<rect x="723" y="209" width="19" height="10" fill="#e8886c"/>
<rect x="460" y="219" width="19" height="9" fill="#faccb4"/>
<rect x="479" y="219" width="19" height="9" fill="#f4a684"/>
<rect x="498" y="219" width="19" height="9" fill="#d7634f"/>
<rect x="517" y="219" width="18" height="9" fill="#e0785f"/>
<rect x="535" y="219" width="19" height="9" fill="#e48066"/>
<rect x="554" y="219" width="19" height="9" fill="#f5ad8c"/>
<rect x="573" y="219" width="19" height="9" fill="#4291c2"/>
<rect x="592" y="219" width="19" height="9" fill="#4291c2"/>
<rect x="611" y="219" width="18" height="9" fill="#72b1d3"/>
<rect x="629" y="219" width="19" height="9" fill="#62a6cd"/>
<rect x="648" y="219" width="19" height="9" fill="#3e8dc0"/>
<rect x="667" y="219" width="19" height="9" fill="#519cc8"/>
<rect x="686" y="219" width="19" height="9" fill="#fcd6c1"/>
<rect x="705" y="219" width="18" height="9" fill="#ef9979"/>
<rect x="723" y="219" width="19" height="9" fill="#d45d4b"/>
<rect x="460" y="228" width="19" height="10" fill="#fac6ac"/>
<rect x="479" y="228" width="19" height="10" fill="#f8bda1"/>
<rect x="498" y="228" width="19" height="10" fill="#f4a684"/>
<rect x="517" y="228" width="18" height="10" fill="#bf3338"/>
<rect x="535" y="228" width="19" height="10" fill="#b92732"/>
<rect x="554" y="228" width="19" height="10" fill="#c53e3d"/>
<rect x="573" y="228" width="19" height="10" fill="#3a87bd"/>
<rect x="592" y="228" width="19" height="10" fill="#317bb7"/>
<rect x="611" y="228" width="18" height="10" fill="#3a87bd"/>
<rect x="629" y="228" width="19" height="10" fill="#cfe4ef"/>
<rect x="648" y="228" width="19" height="10" fill="#dee2e4"/>
<rect x="667" y="228" width="19" height="10" fill="#dee2e4"/>
<rect x="686" y="228" width="19" height="10" fill="#c5dfec"/>
<rect x="705" y="228" width="18" height="10" fill="#c5dfec"/>
<rect x="723" y="228" width="19" height="10" fill="#c5dfec"/>
<rect x="460" y="238" width="19" height="10" fill="#d96652"/>
<rect x="479" y="238" width="19" height="10" fill="#e0785f"/>
<rect x="498" y="238" width="19" height="10" fill="#e8886c"/>
<rect x="517" y="238" width="18" height="10" fill="#d15648"/>
<rect x="535" y="238" width="19" height="10" fill="#d45d4b"/>
<rect x="554" y="238" width="19" height="10" fill="#d96652"/>
<rect x="573" y="238" width="19" height="10" fill="#519cc8"/>
<rect x="592" y="238" width="19" height="10" fill="#317bb7"/>
<rect x="611" y="238" width="18" height="10" fill="#4291c2"/>
<rect x="629" y="238" width="19" height="10" fill="#c5dfec"/>
<rect x="648" y="238" width="19" height="10" fill="#a1cce2"/>
<rect x="667" y="238" width="19" height="10" fill="#c5dfec"/>
<rect x="686" y="238" width="19" height="10" fill="#a7d0e4"/>
<rect x="705" y="238" width="18" height="10" fill="#a7d0e4"/>
<rect x="723" y="238" width="19" height="10" fill="#a1cce2"/>
<rect x="460" y="248" width="19" height="10" fill="#d96652"/>
<rect x="479" y="248" width="19" height="10" fill="#d96652"/>
<rect x="498" y="248" width="19" height="10" fill="#e8886c"/>
<rect x="517" y="248" width="18" height="10" fill="#d45d4b"/>
<rect x="535" y="248" width="19" height="10" fill="#d45d4b"/>
<rect x="554" y="248" width="19" height="10" fill="#e0785f"/>
<rect x="573" y="248" width="19" height="10" fill="#2c75b4"/>
<rect x="592" y="248" width="19" height="10" fill="#3a87bd"/>
<rect x="611" y="248" width="18" height="10" fill="#62a6cd"/>
<rect x="629" y="248" width="19" height="10" fill="#e2e1e0"/>
<rect x="648" y="248" width="19" height="10" fill="#d9e3e8"/>
<rect x="667" y="248" width="19" height="10" fill="#c5dfec"/>
<rect x="686" y="248" width="19" height="10" fill="#a1cce2"/>
<rect x="705" y="248" width="18" height="10" fill="#b1d5e7"/>
<rect x="723" y="248" width="19" height="10" fill="#b1d5e7"/>
<rect x="460" y="258" width="19" height="10" fill="#e48066"/>
<rect x="479" y="258" width="19" height="10" fill="#e48066"/>
<rect x="498" y="258" width="19" height="10" fill="#e0785f"/>
<rect x="517" y="258" width="18" height="10" fill="#e0785f"/>
<rect x="535" y="258" width="19" height="10" fill="#d7634f"/>
<rect x="554" y="258" width="19" height="10" fill="#e0785f"/>
<rect x="573" y="258" width="19" height="10" fill="#2c75b4"/>
<rect x="592" y="258" width="19" height="10" fill="#2c75b4"/>
<rect x="611" y="258" width="18" height="10" fill="#4291c2"/>
<rect x="629" y="258" width="19" height="10" fill="#e7e0dc"/>
<rect x="648" y="258" width="19" height="10" fill="#e2e1e0"/>
<rect x="667" y="258" width="19" height="10" fill="#e2e1e0"/>
<rect x="686" y="258" width="19" height="10" fill="#b9d9e9"/>
<rect x="705" y="258" width="18" height="10" fill="#b1d5e7"/>
<rect x="723" y="258" width="19" height="10" fill="#b1d5e7"/>
<rect x="460" y="268" width="19" height="10" fill="#d45d4b"/>
<rect x="479" y="268" width="19" height="10" fill="#b6212f"/>
<rect x="498" y="268" width="19" height="10" fill="#ca4842"/>
<rect x="517" y="268" width="18" height="10" fill="#f7b698"/>
<rect x="535" y="268" width="19" height="10" fill="#fcd4be"/>
<rect x="554" y="268" width="19" height="10" fill="#faccb4"/>
<rect x="573" y="268" width="19" height="10" fill="#3a87bd"/>
<rect x="592" y="268" width="19" height="10" fill="#519cc8"/>
<rect x="611" y="268" width="18" height="10" fill="#519cc8"/>
<rect x="629" y="268" width="19" height="10" fill="#62a6cd"/>
<rect x="648" y="268" width="19" height="10" fill="#8bc1dc"/>
<rect x="667" y="268" width="19" height="10" fill="#a1cce2"/>
<rect x="686" y="268" width="19" height="10" fill="#fcd6c1"/>
<rect x="705" y="268" width="18" height="10" fill="#faccb4"/>
<rect x="723" y="268" width="19" height="10" fill="#fcd6c1"/>
<rect x="460" y="278" width="19" height="10" fill="#d7634f"/>
<rect x="479" y="278" width="19" height="10" fill="#e48066"/>
<rect x="498" y="278" width="19" height="10" fill="#ca4842"/>
<rect x="517" y="278" width="18" height="10" fill="#e8886c"/>
<rect x="535" y="278" width="19" height="10" fill="#ef9979"/>
<rect x="554" y="278" width="19" height="10" fill="#f4a684"/>
<rect x="573" y="278" width="19" height="10" fill="#2c75b4"/>
<rect x="592" y="278" width="19" height="10" fill="#519cc8"/>
<rect x="611" y="278" width="18" height="10" fill="#62a6cd"/>
<rect x="629" y="278" width="19" height="10" fill="#c5dfec"/>
<rect x="648" y="278" width="19" height="10" fill="#97c8e0"/>
<rect x="667" y="278" width="19" height="10" fill="#a7d0e4"/>
<rect x="686" y="278" width="19" height="10" fill="#fcd6c1"/>
<rect x="705" y="278" width="18" height="10" fill="#b1d5e7"/>
<rect x="723" y="278" width="19" height="10" fill="#b1d5e7"/>
<rect x="460" y="288" width="19" height="10" fill="#e48066"/>
<rect x="479" y="288" width="19" height="10" fill="#e0785f"/>
<rect x="498" y="288" width="19" height="10" fill="#e0785f"/>
<rect x="517" y="288" width="18" height="10" fill="#f5ad8c"/>
<rect x="535" y="288" width="19" height="10" fill="#e48066"/>
<rect x="554" y="288" width="19" height="10" fill="#ef9979"/>
<rect x="573" y="288" width="19" height="10" fill="#2c75b4"/>
<rect x="592" y="288" width="19" height="10" fill="#1b5b9d"/>
<rect x="611" y="288" width="18" height="10" fill="#2c75b4"/>
<rect x="629" y="288" width="19" height="10" fill="#c5dfec"/>
<rect x="648" y="288" width="19" height="10" fill="#fcd6c1"/>
<rect x="667" y="288" width="19" height="10" fill="#eeded5"/>
<rect x="686" y="288" width="19" height="10" fill="#c9e1ee"/>
<rect x="705" y="288" width="18" height="10" fill="#c9e1ee"/>
<rect x="723" y="288" width="19" height="10" fill="#c9e1ee"/>
<rect x="460" y="298" width="19" height="10" fill="#d7634f"/>
<rect x="479" y="298" width="19" height="10" fill="#d15648"/>
<rect x="498" y="298" width="19" height="10" fill="#cd4d44"/>
<rect x="517" y="298" width="18" height="10" fill="#f5ad8c"/>
<rect x="535" y="298" width="19" height="10" fill="#f8bda1"/>
<rect x="554" y="298" width="19" height="10" fill="#f5ad8c"/>
<rect x="573" y="298" width="19" height="10" fill="#124883"/>
<rect x="592" y="298" width="19" height="10" fill="#3e8dc0"/>
<rect x="611" y="298" width="18" height="10" fill="#2c75b4"/>
<rect x="629" y="298" width="19" height="10" fill="#c5dfec"/>
<rect x="648" y="298" width="19" height="10" fill="#b9d9e9"/>
<rect x="667" y="298" width="19" height="10" fill="#e2e1e0"/>
<rect x="686" y="298" width="19" height="10" fill="#fcd4be"/>
<rect x="705" y="298" width="18" height="10" fill="#fcd6c1"/>
<rect x="723" y="298" width="19" height="10" fill="#c5dfec"/>
<rect x="460" y="308" width="19" height="10" fill="#e0785f"/>
<rect x="479" y="308" width="19" height="10" fill="#e8886c"/>
<rect x="498" y="308" width="19" height="10" fill="#e8886c"/>
<rect x="517" y="308" width="18" height="10" fill="#f7b698"/>
<rect x="535" y="308" width="19" height="10" fill="#e48066"/>
<rect x="554" y="308" width="19" height="10" fill="#da6954"/>
<rect x="573" y="308" width="19" height="10" fill="#09376b"/>
<rect x="592" y="308" width="19" height="10" fill="#8bc1dc"/>
<rect x="611" y="308" width="18" height="10" fill="#72b1d3"/>
<rect x="629" y="308" width="19" height="10" fill="#dee2e4"/>
<rect x="648" y="308" width="19" height="10" fill="#519cc8"/>
<rect x="667" y="308" width="19" height="10" fill="#519cc8"/>
<rect x="686" y="308" width="19" height="10" fill="#f2ddd1"/>
<rect x="705" y="308" width="18" height="10" fill="#f8bda1"/>
<rect x="723" y="308" width="19" height="10" fill="#fcd6c1"/>
<rect x="460" y="318" width="19" height="10" fill="#e8886c"/>
<rect x="479" y="318" width="19" height="10" fill="#e0785f"/>
<rect x="498" y="318" width="19" height="10" fill="#f4a684"/>
<rect x="517" y="318" width="18" height="10" fill="#e4e1de"/>
<rect x="535" y="318" width="19" height="10" fill="#d7634f"/>
<rect x="554" y="318" width="19" height="10" fill="#e8886c"/>
<rect x="573" y="318" width="19" height="10" fill="#286fb0"/>
<rect x="592" y="318" width="19" height="10" fill="#286fb0"/>
<rect x="611" y="318" width="18" height="10" fill="#1b5b9d"/>
<rect x="629" y="318" width="19" height="10" fill="#cfe4ef"/>
<rect x="648" y="318" width="19" height="10" fill="#c5dfec"/>
<rect x="667" y="318" width="19" height="10" fill="#a7d0e4"/>
<rect x="686" y="318" width="19" height="10" fill="#f8bda1"/>
<rect x="705" y="318" width="18" height="10" fill="#f8bda1"/>
<rect x="723" y="318" width="19" height="10" fill="#f5ad8c"/>
<rect x="460" y="328" width="19" height="10" fill="#e8886c"/>
<rect x="479" y="328" width="19" height="10" fill="#e0785f"/>
<rect x="498" y="328" width="19" height="10" fill="#e0785f"/>
<rect x="517" y="328" width="18" height="10" fill="#f5ad8c"/>
<rect x="535" y="328" width="19" height="10" fill="#f5ad8c"/>
<rect x="554" y="328" width="19" height="10" fill="#f5ad8c"/>
<rect x="573" y="328" width="19" height="10" fill="#519cc8"/>
<rect x="592" y="328" width="19" height="10" fill="#1b5b9d"/>
<rect x="611" y="328" width="18" height="10" fill="#1b5b9d"/>
<rect x="629" y="328" width="19" height="10" fill="#b1d5e7"/>
<rect x="648" y="328" width="19" height="10" fill="#93c6de"/>
<rect x="667" y="328" width="19" height="10" fill="#72b1d3"/>
<rect x="686" y="328" width="19" height="10" fill="#f8bda1"/>
<rect x="705" y="328" width="18" height="10" fill="#f5ad8c"/>
<rect x="723" y="328" width="19" height="10" fill="#f5ad8c"/>
<rect x="460" y="338" width="19" height="10" fill="#f9c3a8"/>
<rect x="479" y="338" width="19" height="10" fill="#fcd6c1"/>
<rect x="498" y="338" width="19" height="10" fill="#f8bda1"/>
<rect x="517" y="338" width="18" height="10" fill="#1f62a7"/>
<rect x="535" y="338" width="19" height="10" fill="#1f62a7"/>
<rect x="554" y="338" width="19" height="10" fill="#1f62a7"/>
<rect x="573" y="338" width="19" height="10" fill="#c5dfec"/>
<rect x="592" y="338" width="19" height="10" fill="#e4e1de"/>
<rect x="611" y="338" width="18" height="10" fill="#e4e1de"/>
<rect x="629" y="338" width="19" height="10" fill="#ef9979"/>
<rect x="648" y="338" width="19" height="10" fill="#f8bda1"/>
<rect x="667" y="338" width="19" height="10" fill="#ef9979"/>
<rect x="686" y="338" width="19" height="10" fill="#ef9979"/>
<rect x="705" y="338" width="18" height="10" fill="#e8886c"/>
<rect x="723" y="338" width="19" height="10" fill="#e8886c"/>
<rect x="460" y="348" width="19" height="10" fill="#fac6ac"/>
<rect x="479" y="348" width="19" height="10" fill="#fcd4be"/>
<rect x="498" y="348" width="19" height="10" fill="#fac6ac"/>
<rect x="517" y="348" width="18" height="10" fill="#dce3e6"/>
<rect x="535" y="348" width="19" height="10" fill="#e9e0da"/>
<rect x="554" y="348" width="19" height="10" fill="#e2e1e0"/>
<rect x="573" y="348" width="19" height="10" fill="#124883"/>
<rect x="592" y="348" width="19" height="10" fill="#124883"/>
<rect x="611" y="348" width="18" height="10" fill="#3a87bd"/>
<rect x="629" y="348" width="19" height="10" fill="#da6954"/>
<rect x="648" y="348" width="19" height="10" fill="#e0785f"/>
<rect x="667" y="348" width="19" height="10" fill="#e0785f"/>
<rect x="686" y="348" width="19" height="10" fill="#faccb4"/>
<rect x="705" y="348" width="18" height="10" fill="#faccb4"/>
<rect x="723" y="348" width="19" height="10" fill="#faccb4"/>
<rect x="460" y="358" width="19" height="10" fill="#ef9979"/>
<rect x="479" y="358" width="19" height="10" fill="#ef9979"/>
<rect x="498" y="358" width="19" height="10" fill="#f4a684"/>
<rect x="517" y="358" width="18" height="10" fill="#e7e0dc"/>
<rect x="535" y="358" width="19" height="10" fill="#e7e0dc"/>
<rect x="554" y="358" width="19" height="10" fill="#ecdfd7"/>
<rect x="573" y="358" width="19" height="10" fill="#286fb0"/>
<rect x="592" y="358" width="19" height="10" fill="#124883"/>
<rect x="611" y="358" width="18" height="10" fill="#286fb0"/>
<rect x="629" y="358" width="19" height="10" fill="#f2ddd1"/>
<rect x="648" y="358" width="19" height="10" fill="#eeded5"/>
<rect x="667" y="358" width="19" height="10" fill="#f2ddd1"/>
<rect x="686" y="358" width="19" height="10" fill="#e8886c"/>
<rect x="705" y="358" width="18" height="10" fill="#e8886c"/>
<rect x="723" y="358" width="19" height="10" fill="#e8886c"/>
<rect x="460" y="368" width="19" height="10" fill="#ef9979"/>
<rect x="479" y="368" width="19" height="10" fill="#e8886c"/>
<rect x="498" y="368" width="19" height="10" fill="#e0785f"/>
<rect x="517" y="368" width="18" height="10" fill="#fcd6c1"/>
<rect x="535" y="368" width="19" height="10" fill="#fac6ac"/>
<rect x="554" y="368" width="19" height="10" fill="#f7b698"/>
<rect x="573" y="368" width="19" height="10" fill="#09376b"/>
<rect x="592" y="368" width="19" height="10" fill="#2c75b4"/>
<rect x="611" y="368" width="18" height="10" fill="#317bb7"/>
<rect x="629" y="368" width="19" height="10" fill="#fdd9c5"/>
<rect x="648" y="368" width="19" height="10" fill="#d9e3e8"/>
<rect x="667" y="368" width="19" height="10" fill="#fdd9c5"/>
<rect x="686" y="368" width="19" height="10" fill="#fcd6c1"/>
<rect x="705" y="368" width="18" height="10" fill="#e0785f"/>
<rect x="723" y="368" width="19" height="10" fill="#f2ddd1"/>
<rect x="460" y="378" width="19" height="10" fill="#f7b698"/>
<rect x="479" y="378" width="19" height="10" fill="#f7b698"/>
<rect x="498" y="378" width="19" height="10" fill="#f7b698"/>
<rect x="517" y="378" width="18" height="10" fill="#f7b698"/>
<rect x="535" y="378" width="19" height="10" fill="#f7b698"/>
<rect x="554" y="378" width="19" height="10" fill="#f7b698"/>
<rect x="573" y="378" width="19" height="10" fill="#124883"/>
<rect x="592" y="378" width="19" height="10" fill="#124883"/>
<rect x="611" y="378" width="18" height="10" fill="#185493"/>
<rect x="629" y="378" width="19" height="10" fill="#fcd6c1"/>
<rect x="648" y="378" width="19" height="10" fill="#fbdbc8"/>
<rect x="667" y="378" width="19" height="10" fill="#fbdbc8"/>
<rect x="686" y="378" width="19" height="10" fill="#faccb4"/>
<rect x="705" y="378" width="18" height="10" fill="#faccb4"/>
<rect x="723" y="378" width="19" height="10" fill="#faccb4"/>
<rect x="460" y="388" width="19" height="10" fill="#ef9979"/>
<rect x="479" y="388" width="19" height="10" fill="#f5ad8c"/>
<rect x="498" y="388" width="19" height="10" fill="#f5ad8c"/>
<rect x="517" y="388" width="18" height="10" fill="#f8bda1"/>
<rect x="535" y="388" width="19" height="10" fill="#f8bda1"/>
<rect x="554" y="388" width="19" height="10" fill="#faccb4"/>
<rect x="573" y="388" width="19" height="10" fill="#3a87bd"/>
<rect x="592" y="388" width="19" height="10" fill="#2c75b4"/>
<rect x="611" y="388" width="18" height="10" fill="#09376b"/>
<rect x="629" y="388" width="19" height="10" fill="#e4e1de"/>
<rect x="648" y="388" width="19" height="10" fill="#c9e1ee"/>
<rect x="667" y="388" width="19" height="10" fill="#e2e1e0"/>
<rect x="686" y="388" width="19" height="10" fill="#f5ad8c"/>
<rect x="705" y="388" width="18" height="10" fill="#ef9979"/>
<rect x="723" y="388" width="19" height="10" fill="#f5ad8c"/>
<rect x="460.10" y="40.50" width="56.43" height="6.00" fill="#3db54a"/>
<rect x="516.53" y="40.50" width="56.43" height="6.00" fill="#4661ad"/>
<rect x="572.96" y="40.50" width="56.43" height="6.00" fill="#4fc6e8"/>
<rect x="629.39" y="40.50" width="56.43" height="6.00" fill="#b44f9e"/>
<rect x="685.82" y="40.50" width="56.43" height="6.00" fill="#e8003d"/>
<path d="M65.31 39.40V38.70H84.12V39.40M46.51 39.40V38.40H74.72V38.70M121.75 39.40V38.30H140.56V39.40M102.94 39.40V35.30H131.15V38.30M60.61 38.40V31.00H117.04V35.30M178.17 39.40V37.40H196.98V39.40M159.36 39.40V33.60H187.58V37.40M234.60 39.40V38.50H253.41V39.40M215.79 39.40V38.00H244.01V38.50M291.03 39.40V38.10H309.85V39.40M272.22 39.40V37.40H300.44V38.10M229.90 38.00V24.80H286.33V37.40M173.47 33.60V14.00H258.12V24.80M88.83 31.00V1.70H215.79V14.00M488.31 40.50V39.20H507.12V40.50M469.50 40.50V38.90H497.72V39.20M544.75 40.50V39.20H563.56V40.50M525.94 40.50V38.90H554.15V39.20M483.61 38.90V32.30H540.04V38.90M601.17 40.50V38.20H619.99V40.50M582.37 40.50V37.60H610.58V38.20M657.61 40.50V39.00H676.41V40.50M638.80 40.50V38.60H667.01V39.00M714.03 40.50V38.20H732.85V40.50M695.23 40.50V37.40H723.44V38.20M652.90 38.60V26.60H709.33V37.40M596.47 37.60V19.40H681.12V26.60M511.83 32.30V1.70H638.80V19.40" fill="none" stroke="#4a4a4a" stroke-width="1.1"/>
<path d="M37.10 64.45H34.00V75.82H37.10M37.10 98.55H35.00V109.92H37.10M37.10 87.19H32.50V104.24H35.00M34.00 70.14H31.50V95.71H32.50M37.10 121.29H35.00V132.66H37.10M37.10 144.03H35.50V155.39H37.10M35.00 126.97H33.00V149.71H35.50M37.10 166.76H34.00V178.13H37.10M37.10 189.50H35.00V200.86H37.10M34.00 172.45H32.00V195.18H35.00M33.00 138.34H30.50V183.81H32.00M31.50 82.92H28.40V161.08H30.50M37.10 53.08H26.20V122.00H28.40M37.10 234.97H35.00V246.34H37.10M37.10 223.60H33.00V240.65H35.00M37.10 212.23H26.20V232.13H33.00M37.10 269.07H36.00V280.44H37.10M37.10 257.70H35.00V274.75H36.00M37.10 291.81H35.50V303.17H37.10M37.10 325.91H36.00V337.28H37.10M37.10 314.54H35.00V331.59H36.00M35.50 297.49H34.00V323.07H35.00M37.10 348.65H36.00V360.01H37.10M36.00 354.33H35.20V371.38H37.10M37.10 382.75H36.00V394.12H37.10M35.20 362.85H34.50V388.43H36.00M34.00 310.28H30.10V375.64H34.50M35.00 266.23H23.60V342.96H30.10M26.20 222.18H18.60V304.60H23.60M26.20 87.54H2.80V263.39H18.60M460.10 63.77H457.00V73.76H460.10M460.10 53.79H455.30V68.77H457.00M460.10 83.74H457.00V93.72H460.10M460.10 123.67H458.00V133.65H460.10M460.10 113.69H457.50V128.66H458.00M460.10 103.71H456.30V121.18H457.50M457.00 88.73H455.80V112.44H456.30M455.80 100.59H454.40V143.64H460.10M455.30 61.28H451.60V122.11H454.40M460.10 163.60H457.50V173.59H460.10M457.50 168.59H456.50V183.57H460.10M456.50 176.08H455.00V193.55H460.10M460.10 153.62H453.40V184.82H455.00M460.10 213.52H457.50V223.50H460.10M460.10 203.53H455.60V218.51H457.50M460.10 243.47H456.00V253.45H460.10M460.10 233.48H454.00V248.46H456.00M460.10 263.43H456.00V273.41H460.10M460.10 283.40H457.00V293.38H460.10M460.10 303.36H457.50V313.35H460.10M457.00 288.39H455.50V308.35H457.50M456.00 268.42H454.50V298.37H455.50M460.10 323.33H456.50V333.31H460.10M454.50 283.40H452.50V328.32H456.50M454.00 240.97H450.70V305.86H452.50M455.60 211.02H446.30V273.41H450.70M460.10 363.26H456.50V373.24H460.10M460.10 383.23H457.00V393.21H460.10M456.50 368.25H455.00V388.22H457.00M460.10 353.28H452.00V378.23H455.00M460.10 343.29H445.50V365.76H452.00M446.30 242.22H441.50V354.52H445.50M453.40 169.22H436.30V298.37H441.50M451.60 91.70H425.20V233.79H436.30" fill="none" stroke="#4a4a4a" stroke-width="1.1"/>
<text x="321.2" y="55.05" style="font-size:5.45px">Palmitic acid</text>
<text x="321.2" y="66.41" style="font-size:5.45px">Pyroglutamic acid</text>
<text x="321.2" y="77.78" style="font-size:5.45px">L-Threonic acid</text>
<text x="321.2" y="89.15" style="font-size:5.45px">Inositol</text>
<text x="321.2" y="100.52" style="font-size:5.45px">Succinic acid</text>
<text x="321.2" y="111.88" style="font-size:5.45px">D-Glucose</text>
<text x="321.2" y="123.25" style="font-size:5.45px">Oxalic acid</text>
<text x="321.2" y="134.62" style="font-size:5.45px">D-Fructose</text>
<text x="321.2" y="145.99" style="font-size:5.45px">Jasmonic acid</text>
<text x="321.2" y="157.36" style="font-size:5.45px">Maltose</text>
<text x="321.2" y="168.72" style="font-size:5.45px">L-Valine</text>
<text x="321.2" y="180.09" style="font-size:5.45px">Oleic acid</text>
<text x="321.2" y="191.46" style="font-size:5.45px">Caprylic acid</text>
<text x="321.2" y="202.83" style="font-size:5.45px">Stearic acid</text>
<text x="321.2" y="214.19" style="font-size:5.45px">Glycine</text>
<text x="321.2" y="225.56" style="font-size:5.45px">Sucrose</text>
<text x="321.2" y="236.93" style="font-size:5.45px">Alanine</text>
<text x="321.2" y="248.30" style="font-size:5.45px">Xylitol</text>
<text x="321.2" y="259.67" style="font-size:5.45px">Pyruvic Acid</text>
<text x="321.2" y="271.03" style="font-size:5.45px">L-Glutamic Acid</text>
<text x="321.2" y="282.40" style="font-size:5.45px">Glyceric acid</text>
<text x="321.2" y="293.77" style="font-size:5.45px">Galactose</text>
<text x="321.2" y="305.14" style="font-size:5.45px">Aspartic acid</text>
<text x="321.2" y="316.50" style="font-size:5.45px">Allantoin</text>
<text x="321.2" y="327.87" style="font-size:5.45px">L-Methionine</text>
<text x="321.2" y="339.24" style="font-size:5.45px">Carboxylic acid</text>
<text x="321.2" y="350.61" style="font-size:5.45px">Glycerol</text>
<text x="321.2" y="361.97" style="font-size:5.45px">D-Mannitol</text>
<text x="321.2" y="373.34" style="font-size:5.45px">Trehalose</text>
<text x="321.2" y="384.71" style="font-size:5.45px">L-Serine</text>
<text x="321.2" y="396.08" style="font-size:5.45px">Arabinonic acid</text>
<text x="744.0" y="55.84" style="font-size:5.70px">Jasmonic acid</text>
<text x="744.0" y="65.83" style="font-size:5.70px">Stigmasterol</text>
<text x="744.0" y="75.81" style="font-size:5.70px">Alanine</text>
<text x="744.0" y="85.79" style="font-size:5.70px">Shikimic acid</text>
<text x="744.0" y="95.77" style="font-size:5.70px">Capric acid</text>
<text x="744.0" y="105.76" style="font-size:5.70px">L-Pipecolic Acid</text>
<text x="744.0" y="115.74" style="font-size:5.70px">L-methionine</text>
<text x="744.0" y="125.72" style="font-size:5.70px">Allantoin</text>
<text x="744.0" y="135.71" style="font-size:5.70px">Glyceric acid</text>
<text x="744.0" y="145.69" style="font-size:5.70px">Glucose</text>
<text x="744.0" y="155.67" style="font-size:5.70px">Phenylpyruvate</text>
<text x="744.0" y="165.65" style="font-size:5.70px">D- fructose</text>
<text x="744.0" y="175.64" style="font-size:5.70px">L-threonic acid</text>
<text x="744.0" y="185.62" style="font-size:5.70px">Tartaric acid</text>
<text x="744.0" y="195.60" style="font-size:5.70px">Sebacic acid</text>
<text x="744.0" y="205.59" style="font-size:5.70px">Pyruvic acid</text>
<text x="744.0" y="215.57" style="font-size:5.70px">Butyric acid</text>
<text x="744.0" y="225.55" style="font-size:5.70px">Arabinitol</text>
<text x="744.0" y="235.53" style="font-size:5.70px">Oxalic acid</text>
<text x="744.0" y="245.52" style="font-size:5.70px">Serine</text>
<text x="744.0" y="255.50" style="font-size:5.70px">Xylitol</text>
<text x="744.0" y="265.48" style="font-size:5.70px">Succinic acid</text>
<text x="744.0" y="275.47" style="font-size:5.70px">Trehalose</text>
<text x="744.0" y="285.45" style="font-size:5.70px">Oleic acid</text>
<text x="744.0" y="295.43" style="font-size:5.70px">Riboflavin</text>
<text x="744.0" y="305.41" style="font-size:5.70px">Valine</text>
<text x="744.0" y="315.40" style="font-size:5.70px">Ascorbic Acid</text>
<text x="744.0" y="325.38" style="font-size:5.70px">Tryptophan</text>
<text x="744.0" y="335.36" style="font-size:5.70px">L-gutamic acid</text>
<text x="744.0" y="345.35" style="font-size:5.70px">Mannose</text>
<text x="744.0" y="355.33" style="font-size:5.70px">Proline</text>
<text x="744.0" y="365.31" style="font-size:5.70px">Caffeine-D3</text>
<text x="744.0" y="375.29" style="font-size:5.70px">Ferulic acid</text>
<text x="744.0" y="385.28" style="font-size:5.70px">Palmitic acid</text>
<text x="744.0" y="395.26" style="font-size:5.70px">Raffinose</text>
<text transform="translate(44.44,402.00) rotate(90)" style="font-size:5.75px">CP4+AHP3+AMF_1</text>
<text transform="translate(63.24,402.00) rotate(90)" style="font-size:5.75px">CP4+AHP3+AMF_2</text>
<text transform="translate(82.06,402.00) rotate(90)" style="font-size:5.75px">CP4+AHP3+AMF_3</text>
<text transform="translate(100.87,402.00) rotate(90)" style="font-size:5.75px">CP4+AMF_3</text>
<text transform="translate(119.68,402.00) rotate(90)" style="font-size:5.75px">CP4+AMF_1</text>
<text transform="translate(138.49,402.00) rotate(90)" style="font-size:5.75px">CP4+AMF_2</text>
<text transform="translate(157.29,402.00) rotate(90)" style="font-size:5.75px">Control_1</text>
<text transform="translate(176.10,402.00) rotate(90)" style="font-size:5.75px">Control_2</text>
<text transform="translate(194.91,402.00) rotate(90)" style="font-size:5.75px">Control_3</text>
<text transform="translate(213.72,402.00) rotate(90)" style="font-size:5.75px">AMF_1</text>
<text transform="translate(232.53,402.00) rotate(90)" style="font-size:5.75px">AMF_2</text>
<text transform="translate(251.34,402.00) rotate(90)" style="font-size:5.75px">AMF_3</text>
<text transform="translate(270.15,402.00) rotate(90)" style="font-size:5.75px">CP4_1</text>
<text transform="translate(288.96,402.00) rotate(90)" style="font-size:5.75px">CP4_2</text>
<text transform="translate(307.78,402.00) rotate(90)" style="font-size:5.75px">CP4_3</text>
<text transform="translate(467.36,400.60) rotate(90)" style="font-size:5.95px">CP4+AHP3+AMF_1</text>
<text transform="translate(486.17,400.60) rotate(90)" style="font-size:5.95px">CP4+AHP3+AMF_2</text>
<text transform="translate(504.98,400.60) rotate(90)" style="font-size:5.95px">CP4+AHP3+AMF_3</text>
<text transform="translate(523.79,400.60) rotate(90)" style="font-size:5.95px">CP4+AMF_3</text>
<text transform="translate(542.60,400.60) rotate(90)" style="font-size:5.95px">CP4+AMF_1</text>
<text transform="translate(561.41,400.60) rotate(90)" style="font-size:5.95px">CP4+AMF_2</text>
<text transform="translate(580.22,400.60) rotate(90)" style="font-size:5.95px">Control_2</text>
<text transform="translate(599.03,400.60) rotate(90)" style="font-size:5.95px">Control_1</text>
<text transform="translate(617.84,400.60) rotate(90)" style="font-size:5.95px">Control_3</text>
<text transform="translate(636.65,400.60) rotate(90)" style="font-size:5.95px">AMF_1</text>
<text transform="translate(655.46,400.60) rotate(90)" style="font-size:5.95px">AMF_2</text>
<text transform="translate(674.27,400.60) rotate(90)" style="font-size:5.95px">AMF_3</text>
<text transform="translate(693.08,400.60) rotate(90)" style="font-size:5.95px">CP4_3</text>
<text transform="translate(711.89,400.60) rotate(90)" style="font-size:5.95px">CP4_1</text>
<text transform="translate(730.70,400.60) rotate(90)" style="font-size:5.95px">CP4_2</text>
<text x="321.2" y="44.6" class="ct">class</text>
<text x="744.0" y="45.6" class="ct" style="font-size:5.8px">class</text>
<rect x="368.00" y="39.00" width="7" height="106.00" fill="url(#g)"/>
<text x="379.00" y="44.50" class="tk" style="font-size:5.10px">2</text>
<text x="379.00" y="69.20" class="tk" style="font-size:5.10px">1</text>
<text x="379.00" y="93.90" class="tk" style="font-size:5.10px">0</text>
<text x="378.00" y="118.60" class="tk" style="font-size:5.10px">-1</text>
<text x="378.00" y="143.30" class="tk" style="font-size:5.10px">-2</text>
<text x="383.80" y="42.60" class="ct" style="font-size:5.50px">class</text>
<rect x="383.80" y="44.80" width="7.6" height="8.05" fill="#e8003d"/>
<text x="393.00" y="50.63" class="lg" style="font-size:5.30px">B_1</text>
<rect x="383.80" y="52.65" width="7.6" height="8.05" fill="#3db54a"/>
<text x="393.00" y="58.48" class="lg" style="font-size:5.30px">B_1+B_2+M</text>
<rect x="383.80" y="60.50" width="7.6" height="8.05" fill="#4661ad"/>
<text x="393.00" y="66.33" class="lg" style="font-size:5.30px">B_1+M</text>
<rect x="383.80" y="68.35" width="7.6" height="8.05" fill="#4fc6e8"/>
<text x="393.00" y="74.18" class="lg" style="font-size:5.30px">C</text>
<rect x="383.80" y="76.20" width="7.6" height="8.05" fill="#b44f9e"/>
<text x="393.00" y="82.03" class="lg" style="font-size:5.30px">M</text>
<rect x="788.80" y="40.00" width="7" height="109.70" fill="url(#g)"/>
<text x="799.00" y="47.55" class="tk" style="font-size:5.40px">2</text>
<text x="799.00" y="72.15" class="tk" style="font-size:5.40px">1</text>
<text x="799.00" y="96.75" class="tk" style="font-size:5.40px">0</text>
<text x="798.00" y="121.35" class="tk" style="font-size:5.40px">-1</text>
<text x="798.00" y="145.95" class="tk" style="font-size:5.40px">-2</text>
<text x="804.40" y="43.80" class="ct" style="font-size:5.80px">class</text>
<rect x="804.40" y="46.00" width="7.6" height="8.25" fill="#e8003d"/>
<text x="813.60" y="52.06" class="lg" style="font-size:5.65px">B_1</text>
<rect x="804.40" y="54.05" width="7.6" height="8.25" fill="#3db54a"/>
<text x="813.60" y="60.11" class="lg" style="font-size:5.65px">B_1+B_2+M</text>
<rect x="804.40" y="62.10" width="7.6" height="8.25" fill="#4661ad"/>
<text x="813.60" y="68.16" class="lg" style="font-size:5.65px">B_1+M</text>
<rect x="804.40" y="70.15" width="7.6" height="8.25" fill="#4fc6e8"/>
<text x="813.60" y="76.21" class="lg" style="font-size:5.65px">C</text>
<rect x="804.40" y="78.20" width="7.6" height="8.25" fill="#b44f9e"/>
<text x="813.60" y="84.26" class="lg" style="font-size:5.65px">M</text>
<path d="M424.2 1V6M424.2 25V449" stroke="#d6d6d6" stroke-width="1.3"/>
<path d="M0 0H849V1.1H0ZM1.0 0H2.1V470H1.0ZM847.8 0H849V470H847.8ZM0 468.8H849V470H0Z" fill="#111"/>
<rect x="0" y="449" width="21" height="21" fill="#1a1a1a"/>
<text x="10.6" y="463.6" class="pl">a</text>
<rect x="420.2" y="449" width="20.5" height="21" fill="#1a1a1a"/>
<text x="430.6" y="463.6" class="pl">b</text>
</svg>
</body></html>
